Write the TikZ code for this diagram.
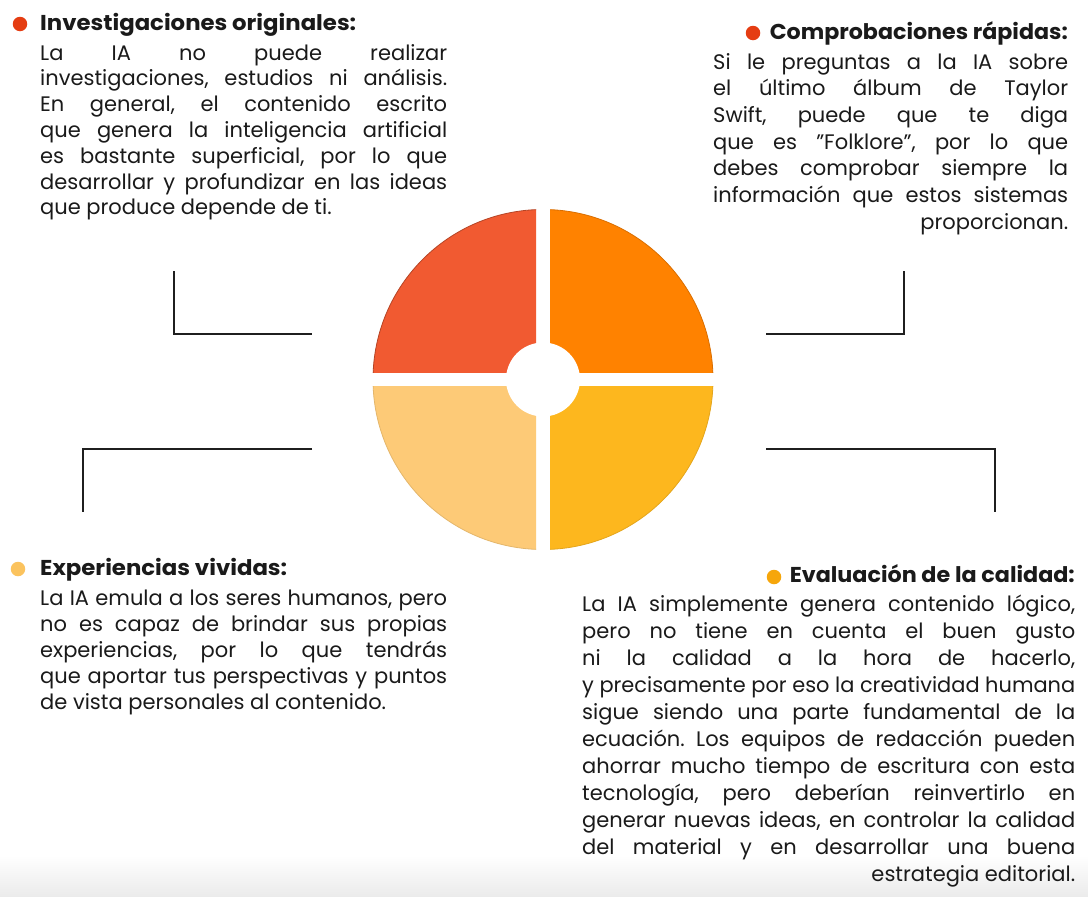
\documentclass[tikz,border=0pt]{standalone}
\usepackage{fontspec}
\setmainfont{Poppins}
\usepackage{graphicx}
\frenchspacing
\definecolor{qtl}{HTML}{F15A31}
\definecolor{qtr}{HTML}{FF8200}
\definecolor{qbl}{HTML}{FDCA77}
\definecolor{qbr}{HTML}{FDB71E}
\definecolor{btl}{HTML}{E53D12}
\definecolor{bbl}{HTML}{FBC35E}
\definecolor{bbr}{HTML}{F6A60B}
\definecolor{txt}{HTML}{1A1A1A}
\definecolor{ln}{HTML}{1F1F1F}
\newsavebox\jlbox
\newlength\lw
\newcommand\jl[1]{\sbox\jlbox{#1}\ifdim\wd\jlbox>\lw\hbox{\resizebox{\lw}{\height}{\usebox\jlbox}}\else\hbox to\lw{#1}\fi}
\newcommand\jlast[1]{\hbox to\lw{#1\hfil}}
\newcommand\jrast[1]{\hbox to\lw{\hfil#1}}
\newcommand\blk[3]{\vtop{\lw=#1\relax\hsize=#1\relax\baselineskip=#2\relax\lineskiplimit=-30pt\lineskip=0pt #3}}
\newcommand\hd[2]{\resizebox{#1}{\height}{#2}}
\tikzset{
  body/.style={inner sep=0pt,text=txt,font=\fontsize{21}{26}\selectfont},
  head/.style={inner sep=0pt,text=txt,font=\fontsize{21.5}{26}\selectfont\bfseries},
  bul/.style={circle,inner sep=0pt,minimum size=14.5pt},
  conn/.style={draw=ln,line width=2pt,line join=miter},
  quad/.style={line width=0.8pt}
}
\begin{document}
\begin{tikzpicture}[x=1pt,y=-1pt]
\useasboundingbox (0,0) rectangle (1088,897);
\fill[white] (0,0) rectangle (1088,897);
\shade[top color=white,bottom color=black!8] (0,855) rectangle (1088,897);

% ring of four quadrants
\coordinate (c) at (543,379.5);
\begin{scope}
  \clip (536,372.5) rectangle (350,190);
  \fill[qtl,draw=qtl!75!black,quad] (c) circle (170);
\end{scope}
\begin{scope}
  \clip (550,372.5) rectangle (740,190);
  \fill[qtr,draw=qtr!85!black,quad] (c) circle (170);
\end{scope}
\begin{scope}
  \clip (536,386.5) rectangle (350,570);
  \fill[qbl,draw=qbl!90!black,quad] (c) circle (170);
\end{scope}
\begin{scope}
  \clip (550,386.5) rectangle (740,570);
  \fill[qbr,draw=qbr!90!black,quad] (c) circle (170);
\end{scope}
\fill[white] (c) circle (37);

% connectors
\coordinate (a1) at (174,271); \coordinate (a2) at (174,334); \coordinate (a3) at (312,334);
\coordinate (b1) at (312,449); \coordinate (b2) at (83,449);  \coordinate (b3) at (83,512);
\coordinate (d1) at (766,334); \coordinate (d2) at (904,334); \coordinate (d3) at (904,271);
\coordinate (e1) at (766,449); \coordinate (e2) at (995,449); \coordinate (e3) at (995,512);
\draw[conn] (a1) -- (a2) -- (a3);
\draw[conn] (b1) -- (b2) -- (b3);
\draw[conn] (d1) -- (d2) -- (d3);
\draw[conn] (e1) -- (e2) -- (e3);

% bullets
\node[bul,fill=btl] (p1) at (20,24) {};
\node[bul,fill=btl] (p2) at (753,33) {};
\node[bul,fill=bbl] (p3) at (18,569) {};
\node[bul,fill=bbr] (p4) at (774,577) {};

% headings
\node[head,anchor=base west] (h1) at (40,30) {\hd{316pt}{Investigaciones originales:}};
\node[head,anchor=base east] (h2) at (1068,39) {\hd{298pt}{Comprobaciones rápidas:}};
\node[head,anchor=base west] (h3) at (40,575) {\hd{247pt}{Experiencias vividas:}};
\node[head,anchor=base east] (h4) at (1075,582) {\hd{285pt}{Evaluación de la calidad:}};

% texts
\node[body,anchor=base west] (t1) at (40,60) {\blk{407pt}{25.8pt}{%
\jl{La IA no puede realizar}%
\jl{investigaciones, estudios ni análisis.}%
\jl{En general, el contenido escrito}%
\jl{que genera la inteligencia artificial}%
\jl{es bastante superficial, por lo que}%
\jl{desarrollar y profundizar en las ideas}%
\jlast{que produce depende de ti.}}};

\node[body,anchor=base west] (t2) at (713,69) {\blk{355pt}{26.7pt}{%
\jl{Si le preguntas a la IA sobre}%
\jl{el último álbum de Taylor}%
\jl{Swift, puede que te diga}%
\jl{que es "Folklore", por lo que}%
\jl{debes comprobar siempre la}%
\jl{información que estos sistemas}%
\jrast{proporcionan.}}};

\node[body,anchor=base west] (t3) at (40,605) {\blk{407pt}{26pt}{%
\jl{La IA emula a los seres humanos, pero}%
\jl{no es capaz de brindar sus propias}%
\jl{experiencias, por lo que tendrás}%
\jl{que aportar tus perspectivas y puntos}%
\jlast{de vista personales al contenido.}}};

\node[body,anchor=base west] (t4) at (582,611) {\blk{493pt}{27pt}{%
\jl{La IA simplemente genera contenido lógico,}%
\jl{pero no tiene en cuenta el buen gusto}%
\jl{ni la calidad a la hora de hacerlo,}%
\jl{y precisamente por eso la creatividad humana}%
\jl{sigue siendo una parte fundamental de la}%
\jl{ecuación. Los equipos de redacción pueden}%
\jl{ahorrar mucho tiempo de escritura con esta}%
\jl{tecnología, pero deberían reinvertirlo en}%
\jl{generar nuevas ideas, en controlar la calidad}%
\jl{del material y en desarrollar una buena}%
\jrast{estrategia editorial.}}};
\end{tikzpicture}
\end{document}
